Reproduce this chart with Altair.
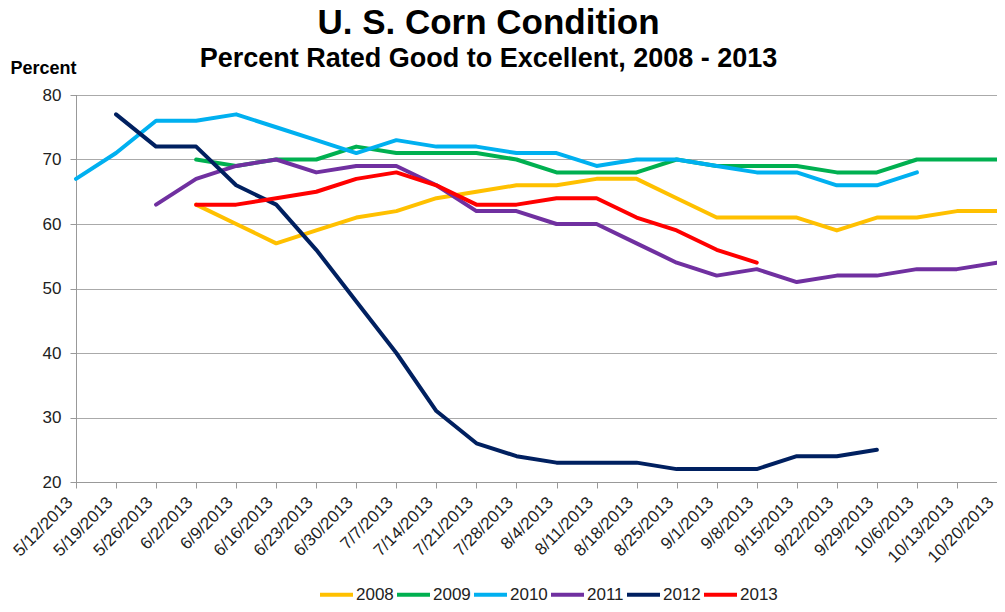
import altair as alt
import pandas as pd

dates = ["5/12/2013", "5/19/2013", "5/26/2013", "6/2/2013", "6/9/2013", "6/16/2013",
         "6/23/2013", "6/30/2013", "7/7/2013", "7/14/2013", "7/21/2013", "7/28/2013",
         "8/4/2013", "8/11/2013", "8/18/2013", "8/25/2013", "9/1/2013", "9/8/2013",
         "9/15/2013", "9/22/2013", "9/29/2013", "10/6/2013", "10/13/2013", "10/20/2013"]

years = ["2008", "2009", "2010", "2011", "2012", "2013"]
colors = ["#FFC000", "#00B050", "#00B0F0", "#7030A0", "#002060", "#FF0000"]

N = None
y2008 = [N, N, N, 63, 60, 57, 59, 61, 62, 64, 65, 66, 66, 67, 67, 64, 61, 61, 61, 59, 61, 61, 62, 62]
y2009 = [N, N, N, 70, 69, 70, 70, 72, 71, 71, 71, 70, 68, 68, 68, 70, 69, 69, 69, 68, 68, 70, 70, 70]
y2010 = [67, 71, 76, 76, 77, 75, 73, 71, 73, 72, 72, 71, 71, 69, 70, 70, 69, 68, 68, 66, 66, 68, N, N]
y2011 = [N, N, 63, 67, 69, 70, 68, 69, 69, 66, 62, 62, 60, 60, 57, 54, 52, 53, 51, 52, 52, 53, 53, 54]
y2012 = [N, 77, 72, 72, 66, 63, 56, 48, 40, 31, 26, 24, 23, 23, 23, 22, 22, 22, 24, 24, 25, N, N, N]
y2013 = [N, N, N, 63, 63, 64, 65, 67, 68, 66, 63, 63, 64, 64, 61, 59, 56, 54, N, N, N, N, N, N]

series = dict(zip(years, [y2008, y2009, y2010, y2011, y2012, y2013]))

rows = []
for yr, vals in series.items():
    for d, v in zip(dates, vals):
        if v is not None:
            rows.append({"date": d, "year": yr, "pct": v})
df = pd.DataFrame(rows)

FONT = "Liberation Sans"

chart = alt.Chart(df).mark_line(strokeJoin="round", strokeCap="round").encode(
    x=alt.X("date:N", sort=dates, scale=alt.Scale(type="point", padding=0),
            axis=alt.Axis(title=None, labelAngle=-45, labelAlign="right", labelBaseline="bottom",
                          labelFontSize=17, labelPadding=18, labelColor="#222", labelOffset=0,
                          tickSize=6, tickColor="#999", domainColor="#999", grid=False,
                          labelOverlap=False)),
    y=alt.Y("pct:Q", scale=alt.Scale(domain=[20, 80]),
            axis=alt.Axis(values=[20, 30, 40, 50, 60, 70, 80], title="Percent",
                          titleAngle=0, titleAlign="left", titleBaseline="alphabetic",
                          titleX=-66, titleY=-22, titleFontSize=18, titleFontWeight="bold",
                          titleColor="#000",
                          labelFontSize=17, labelColor="#222", labelPadding=9,
                          tickSize=6, tickColor="#999", domainColor="#999",
                          gridColor="#aaaaaa", gridWidth=1)),
    color=alt.Color("year:N", scale=alt.Scale(domain=years, range=colors),
                    legend=alt.Legend(title=None, orient="none", direction="horizontal",
                                      legendX=242, legendY=481, symbolType="stroke",
                                      symbolStrokeWidth=5, symbolSize=1089,
                                      labelFontSize=17, labelOffset=1, columnPadding=-5,
                                      labelColor="#222", columns=6)),
    strokeWidth=alt.StrokeWidth("year:N", scale=alt.Scale(domain=years, range=[4, 4, 4, 4, 3.5, 4]),
                                legend=None),
).properties(
    width=921,
    height=387,
    title=alt.TitleParams(text="U. S. Corn Condition",
                          subtitle="Percent Rated Good to Excellent, 2008 - 2013",
                          fontSize=35, subtitleFontSize=27, fontWeight="bold",
                          subtitleFontWeight="bold", font=FONT, subtitleFont=FONT,
                          color="#000", subtitleColor="#000", anchor="middle",
                          dx=-48, dy=13, offset=0, subtitlePadding=5),
    autosize=alt.AutoSizeParams(type="none"),
    padding={"left": 68, "top": 87, "right": 0, "bottom": 122},
).configure(font=FONT).configure_view(stroke="#333", strokeWidth=1)

chart.save("out.html", embed_options={"renderer": "svg", "actions": False})
